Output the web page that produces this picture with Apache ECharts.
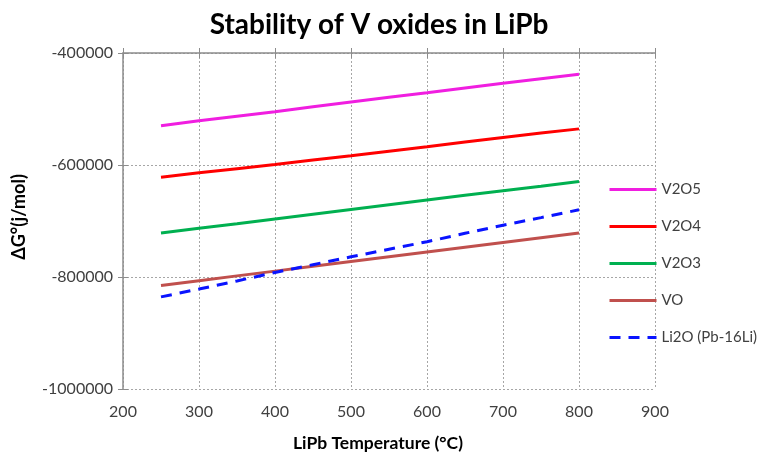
<!DOCTYPE html>
<html><head><meta charset="utf-8">
<script src="https://cdn.jsdelivr.net/npm/echarts@6/dist/echarts.min.js"></script>
<style>html,body{margin:0;padding:0;background:#fff}#c{width:758px;height:454px}</style>
</head><body><div id="c"></div>
<script>
var temps = [250, 300, 350, 400, 450, 500, 550, 600, 650, 700, 750, 800];
var v2o5 = [-530000, -521000, -513000, -505000, -496000, -487500, -479000, -471000, -462500, -454000, -446000, -438000];
var v2o4 = [-622000, -614000, -606500, -599000, -591000, -583500, -575500, -567500, -559000, -551000, -543000, -535500];
var v2o3 = [-721500, -713000, -705000, -696500, -688000, -679500, -671000, -662500, -654000, -646000, -638000, -629500];
var vo   = [-815000, -806500, -798000, -789500, -781000, -772500, -764000, -755500, -747000, -738500, -730000, -721500];
var li2o = [-835500, -821500, -807000, -792000, -778000, -764000, -750500, -737000, -722000, -707500, -694000, -680000];
var names = ['V2O5', 'V2O4', 'V2O3', 'VO', 'Li2O (Pb-16Li)'];
var colors = ['#f01ee0', '#ff0000', '#00b050', '#c0504d', '#0a14ff'];

function pairs(ys){ return temps.map(function(t,i){ return [t, ys[i]]; }); }
var allY = [v2o5, v2o4, v2o3, vo, li2o];

var font = 'Lato, "Open Sans", sans-serif';
var chart = echarts.init(document.getElementById('c'));
var gridLine = {show:true, lineStyle:{color:'#a6a6a6', type:[2,2], width:1}};
var axisCol = '#8c8c8c';
var option = {
  animation:false,
  backgroundColor:'#fff',
  title:{text:'Stability of V oxides in LiPb', left:'center', top:6,
    textStyle:{fontFamily:font, fontWeight:'bold', fontSize:28, color:'#000'}},
  grid:{left:123, right:103, top:53, bottom:65, containLabel:false, outerBoundsMode:'none'},
  legend:{orient:'vertical', left:608, top:182, itemWidth:47, itemHeight:14, itemGap:22,
    padding:0, itemStyle:{opacity:0}, lineStyle:{width:3},
    textStyle:{fontFamily:font, fontSize:15, color:'#404040'},
    data:names},
  xAxis:[
    {type:'value', min:200, max:900, interval:100, position:'bottom',
     axisLine:{show:false}, axisTick:{show:false},
     axisLabel:{fontFamily:font, fontSize:16, color:'#404040', margin:15},
     splitLine:gridLine,
     name:'LiPb Temperature (°C)', nameLocation:'middle', nameGap:45,
     nameTextStyle:{fontFamily:font, fontSize:17.5, fontWeight:'bold', color:'#000', padding:[0,22,0,0]}},
    {type:'value', min:200, max:900, interval:100, position:'top',
     axisLine:{show:true, lineStyle:{color:axisCol, width:1.5}},
     axisTick:{show:true, length:5, lineStyle:{color:axisCol}},
     axisLabel:{show:false}, splitLine:{show:false}},
    {type:'value', min:200, max:900, interval:100, position:'top',
     axisLine:{show:false},
     axisTick:{show:true, inside:true, length:5, lineStyle:{color:axisCol}},
     axisLabel:{show:false}, splitLine:{show:false}}
  ],
  yAxis:[
    {type:'value', min:-1000000, max:-400000, interval:200000,
     axisLine:{show:true, lineStyle:{color:axisCol, width:1.5}},
     axisTick:{show:true, length:5, lineStyle:{color:axisCol}},
     axisLabel:{fontFamily:font, fontSize:16, color:'#404040', margin:10,
       formatter:function(v){ return String(v); }},
     splitLine:gridLine,
     name:'ΔG°(j/mol)', nameLocation:'middle', nameGap:95, nameRotate:90,
     nameTextStyle:{fontFamily:font, fontSize:18, fontWeight:'bold', color:'#000', padding:[0,0,0,8]}},
    {type:'value', min:-1000000, max:-400000, interval:200000, position:'left',
     axisLine:{show:false},
     axisTick:{show:true, inside:true, length:5, lineStyle:{color:axisCol}},
     axisLabel:{show:false}, splitLine:{show:false}}
  ],
  series: names.map(function(n,i){
    return {name:n, type:'line', data:pairs(allY[i]), symbol:'none', smooth:false,
      xAxisIndex:0, yAxisIndex:0,
      lineStyle:{color:colors[i], width:3, type: i===4 ? [11,8] : 'solid'},
      itemStyle:{color:colors[i]}};
  })
};
chart.setOption(option);
</script></body></html>
